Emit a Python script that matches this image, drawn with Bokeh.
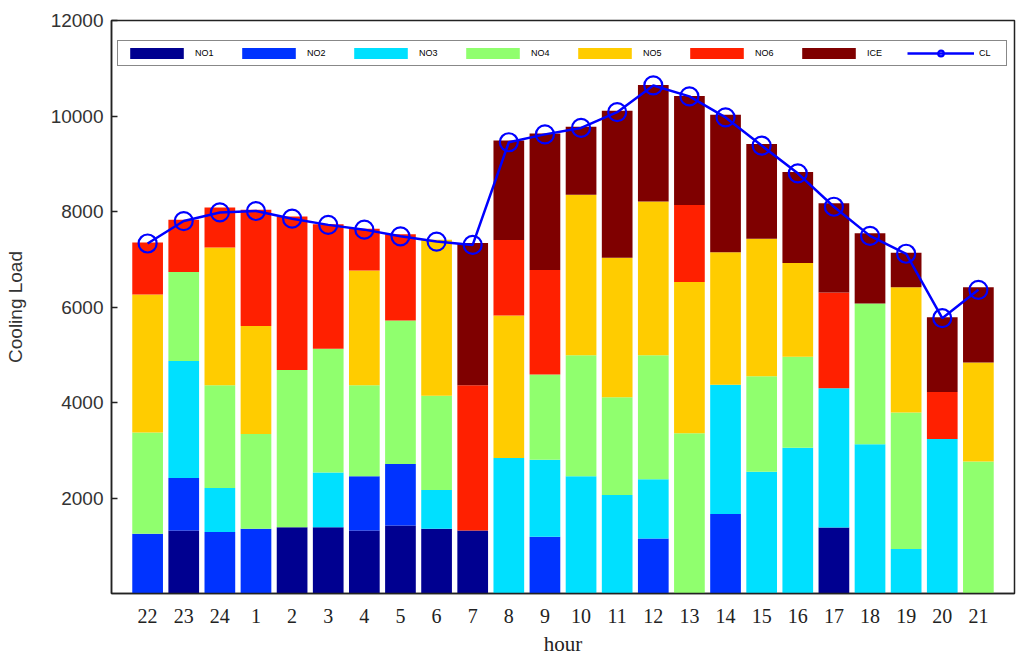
from bokeh.plotting import figure
from bokeh.models import (Range1d, FixedTicker, Legend, LegendItem, ColumnDataSource)
from bokeh.embed import file_html
from bokeh.resources import INLINE

hours = ["22", "23", "24", "1", "2", "3", "4", "5", "6", "7", "8", "9",
         "10", "11", "12", "13", "14", "15", "16", "17", "18", "19", "20", "21"]

NO1 = [0, 1321, 0, 0, 1390, 1390, 1321, 1426, 1357, 1321, 0, 0,
       0, 0, 0, 0, 0, 0, 0, 1380, 0, 0, 0, 0]
NO2 = [1252, 1100, 1286, 1357, 0, 0, 1134, 1287, 0, 0, 0, 1186,
       0, 0, 1150, 0, 1667, 0, 0, 0, 0, 0, 0, 0]
NO3 = [0, 2448, 926, 0, 0, 1142, 0, 0, 813, 0, 2839, 1617,
       2458, 2063, 1243, 0, 2703, 2551, 3054, 2918, 3126, 934, 3234, 0]
NO4 = [2121, 1864, 2150, 1982, 3291, 2594, 1907, 3005, 1969, 0, 0, 1782,
       2530, 2048, 2595, 3356, 0, 1998, 1905, 0, 2947, 2854, 0, 2767]
NO5 = [2888, 0, 2886, 2261, 0, 0, 2400, 0, 3270, 0, 2982, 0,
       3363, 2918, 3220, 3170, 2774, 2882, 1962, 0, 0, 2623, 0, 2070]
NO6 = [1091, 1093, 835, 2435, 3214, 2609, 876, 1808, 0, 3041, 1582, 2192,
       0, 0, 0, 1610, 0, 0, 0, 2005, 0, 0, 985, 0]
ICE = [0, 0, 0, 0, 0, 0, 0, 0, 0, 2976, 2084, 2854,
       1423, 3083, 2443, 2285, 2882, 1984, 1905, 1869, 1473, 726, 1567, 1574]
CL = [7330, 7800, 7980, 8010, 7850, 7720, 7620, 7480, 7370, 7300, 9450, 9615,
      9750, 10080, 10640, 10410, 9970, 9380, 8800, 8100, 7490, 7115, 5765, 6360]

series_names = ["NO1", "NO2", "NO3", "NO4", "NO5", "NO6", "ICE"]
colors = ["#000090", "#0033FF", "#00E0FF", "#90FF6E", "#FFCC00", "#FF2000", "#7F0000"]
y_ticks = [2000, 4000, 6000, 8000, 10000, 12000]

xpos = list(range(1, len(hours) + 1))
source = ColumnDataSource(dict(x=xpos, NO1=NO1, NO2=NO2, NO3=NO3, NO4=NO4,
                               NO5=NO5, NO6=NO6, ICE=ICE, CL=CL))

p = figure(width=1018, height=658, output_backend="svg", toolbar_location=None,
           x_range=Range1d(0, len(hours) + 1), y_range=Range1d(0, 12000),
           min_border_left=111, min_border_right=4, min_border_top=20,
           min_border_bottom=65)
p.background_fill_color = "white"
p.border_fill_color = "white"
p.outline_line_color = "#222222"
p.outline_line_width = 1.5
p.xgrid.visible = False
p.ygrid.visible = False

bars = p.vbar_stack(series_names, x="x", width=0.85, color=colors, line_width=0,
                    source=source)
cl_line = p.line("x", "CL", source=source, line_color="#0000FF", line_width=2.5)
cl_pts = p.scatter("x", "CL", source=source, marker="circle", size=18,
                   fill_color=None, line_color="#0000FF", line_width=2.2)

# axes
p.xaxis.ticker = FixedTicker(ticks=xpos)
p.xaxis.major_label_overrides = {x: h for x, h in zip(xpos, hours)}
p.xaxis.major_tick_line_color = None
p.xaxis.minor_tick_line_color = None
p.xaxis.major_label_text_font = "Liberation Serif"
p.xaxis.major_label_text_font_size = "20px"
p.xaxis.major_label_text_color = "#222222"
p.xaxis.major_label_standoff = 9
p.xaxis.axis_label = "hour"
p.xaxis.axis_label_text_font = "Liberation Serif"
p.xaxis.axis_label_text_font_size = "21px"
p.xaxis.axis_label_text_font_style = "normal"
p.xaxis.axis_label_text_color = "#222222"
p.xaxis.axis_label_standoff = 6
p.xaxis.axis_line_color = "#222222"
p.xaxis.axis_line_width = 1.5

p.yaxis.ticker = FixedTicker(ticks=y_ticks)
p.yaxis.major_tick_in = 6
p.yaxis.major_tick_out = 0
p.yaxis.minor_tick_line_color = None
p.yaxis.major_tick_line_color = "#222222"
p.yaxis.major_tick_line_width = 1.5
p.yaxis.major_label_text_font = "Liberation Sans"
p.yaxis.major_label_text_font_size = "19px"
p.yaxis.major_label_text_color = "#333333"
p.yaxis.major_label_standoff = 8
p.yaxis.axis_label = "Cooling Load"
p.yaxis.axis_label_text_font = "Liberation Sans"
p.yaxis.axis_label_text_font_size = "19px"
p.yaxis.axis_label_text_font_style = "normal"
p.yaxis.axis_label_text_color = "#333333"
p.yaxis.axis_label_standoff = 22
p.yaxis.axis_line_color = "#222222"
p.yaxis.axis_line_width = 1.5

items = [LegendItem(label=n, renderers=[r]) for n, r in zip(series_names, bars)]
items.append(LegendItem(label="CL", renderers=[cl_line, cl_pts]))
legend = Legend(items=items, orientation="horizontal", location=(6, 527),
                glyph_width=67, glyph_height=14, label_width=22, label_standoff=5,
                spacing=18, padding=5, margin=0,
                label_text_font="Liberation Sans", label_text_font_size="9px",
                label_text_color="#000000",
                border_line_color="#111111", border_line_width=1.5,
                background_fill_color="white", background_fill_alpha=1.0)
p.add_layout(legend, "center")

open("out.html", "w").write(file_html(p, INLINE))
